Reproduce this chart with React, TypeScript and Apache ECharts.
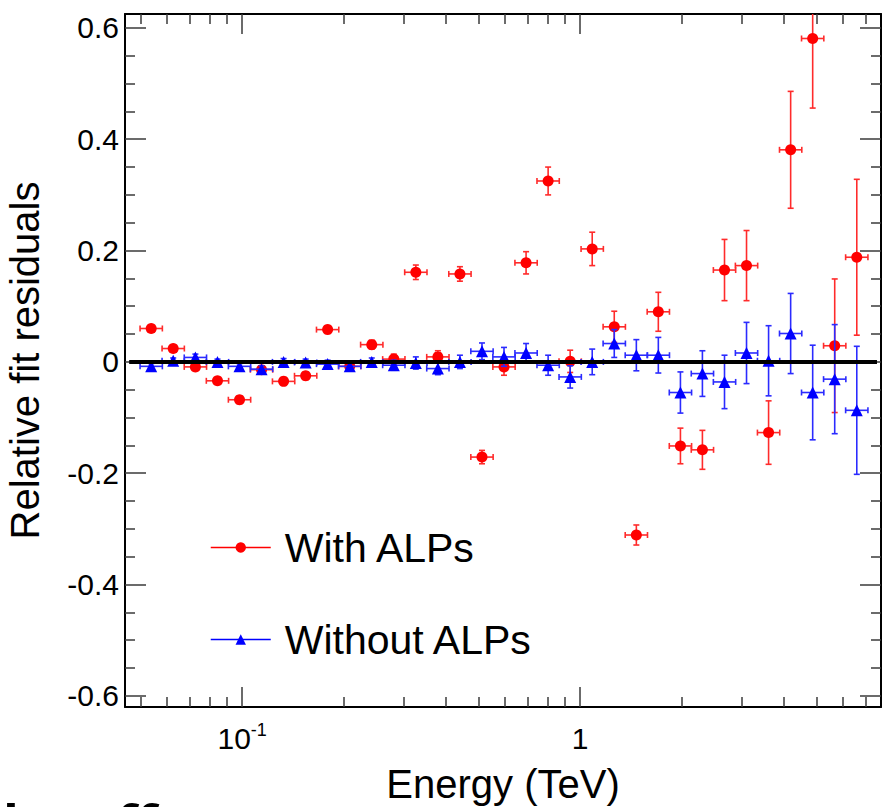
import React, { useEffect, useRef } from "react";
import * as echarts from "echarts";

// ---- data ----
const energyTeV = [
  0.0538, 0.0625, 0.0727, 0.0845, 0.0982, 0.1141, 0.1326, 0.1541, 0.179, 0.2081,
  0.2418, 0.281, 0.3265, 0.3794, 0.4409, 0.5124, 0.5954, 0.692, 0.8042, 0.9346,
  1.086, 1.262, 1.467, 1.704, 1.981, 2.301, 2.675, 3.108, 3.612, 4.198,
  4.878, 5.668, 6.588,
];
const withALPs = [
  0.06, 0.024, -0.009, -0.034, -0.068, -0.014, -0.035, -0.025, 0.058, -0.008,
  0.031, 0.005, 0.161, 0.009, 0.158, -0.171, -0.009, 0.178, 0.325, 0.001,
  0.203, 0.063, -0.311, 0.09, -0.151, -0.158, 0.165, 0.173, -0.127, 0.381,
  0.581, 0.029, 0.188,
];
const withALPsErr = [
  0.006, 0.006, 0.006, 0.006, 0.007, 0.007, 0.007, 0.007, 0.007, 0.008,
  0.008, 0.009, 0.013, 0.011, 0.013, 0.012, 0.015, 0.02, 0.025, 0.02,
  0.03, 0.028, 0.018, 0.035, 0.032, 0.035, 0.055, 0.063, 0.057, 0.105,
  0.125, 0.12, 0.14,
];
const withoutALPs = [
  -0.008, 0.002, 0.008, 0.0, -0.008, -0.013, 0.0, -0.001, -0.004, -0.008,
  0.0, -0.006, -0.002, -0.012, 0.0, 0.019, 0.009, 0.016, -0.006, -0.027,
  0.0, 0.033, 0.012, 0.012, -0.055, -0.021, -0.036, 0.016, 0.002, 0.051,
  -0.055, -0.031, -0.087,
];
const withoutALPsErr = [
  0.005, 0.005, 0.006, 0.005, 0.005, 0.006, 0.006, 0.006, 0.007, 0.007,
  0.007, 0.009, 0.011, 0.011, 0.012, 0.015, 0.017, 0.017, 0.018, 0.02,
  0.023, 0.025, 0.028, 0.032, 0.037, 0.041, 0.048, 0.055, 0.063, 0.072,
  0.085, 0.098, 0.115,
];
const halfBinLog = 0.033; // half width of an energy bin, in decades
const xRange = [0.045, 7.77];
const yRange = [-0.62, 0.625];
const zeroLineEnergy = [0.0463, 7.56];
const yMajorTicks = [-0.6, -0.4, -0.2, 0, 0.2, 0.4, 0.6];
const yMinorTicks = [
  -0.55, -0.5, -0.45, -0.35, -0.3, -0.25, -0.15, -0.1, -0.05,
  0.05, 0.1, 0.15, 0.25, 0.3, 0.35, 0.45, 0.5, 0.55,
];
const xMajorTicks = [0.1, 1];
const xMajorLabels = [["10", "-1"], ["1", ""]];
const xMinorTicks = [
  0.05, 0.06, 0.07, 0.08, 0.09, 0.2, 0.3, 0.4, 0.5, 0.6, 0.7, 0.8, 0.9,
  2, 3, 4, 5, 6, 7,
];
const seriesNames = ["With ALPs", "Without ALPs"];

const FONT = "'Liberation Sans', Arial, Helvetica, sans-serif";
const lg = (v: number) => Math.log10(v);

function errRender(color: string) {
  return (params: any, api: any) => {
    const cs = params.coordSys;
    const x = api.value(0);
    const y = api.value(1);
    const c = api.coord([x, y]);
    const pLo = api.coord([x, api.value(2)]);
    const pHi = api.coord([x, api.value(3)]);
    const pL = api.coord([api.value(4), y]);
    const pR = api.coord([api.value(5), y]);
    const top = Math.max(pHi[1], cs.y);
    const bot = Math.min(pLo[1], cs.y + cs.height);
    const style = { stroke: color, lineWidth: 1.6 };
    const cap = 3;
    const children: any[] = [
      { type: "line", shape: { x1: c[0], y1: top, x2: c[0], y2: bot }, style },
      { type: "line", shape: { x1: pL[0], y1: c[1], x2: pR[0], y2: c[1] }, style },
      { type: "line", shape: { x1: pL[0], y1: c[1] - cap, x2: pL[0], y2: c[1] + cap }, style },
      { type: "line", shape: { x1: pR[0], y1: c[1] - cap, x2: pR[0], y2: c[1] + cap }, style },
    ];
    if (pHi[1] >= cs.y)
      children.push({ type: "line", shape: { x1: c[0] - cap, y1: pHi[1], x2: c[0] + cap, y2: pHi[1] }, style });
    if (pLo[1] <= cs.y + cs.height)
      children.push({ type: "line", shape: { x1: c[0] - cap, y1: pLo[1], x2: c[0] + cap, y2: pLo[1] }, style });
    return { type: "group", children };
  };
}

export default function App() {
  const ref = useRef<HTMLDivElement>(null);

  useEffect(() => {
    document.body.style.margin = "0";
    if (!ref.current) return;
    const chart = echarts.init(ref.current, null, { renderer: "svg" });

    const xMin = lg(xRange[0]);
    const xMax = lg(xRange[1]);
    const tickColor = "#3a3a3a";

    const xBase = {
      type: "value",
      min: xMin,
      max: xMax,
      splitLine: { show: false },
      axisLabel: { show: false },
    };
    const yBase = {
      type: "value",
      min: yRange[0],
      max: yRange[1],
      splitLine: { show: false },
      axisLabel: { show: false },
    };

    const errData = (vals: number[], errs: number[]) =>
      energyTeV.map((e, i) => [
        lg(e),
        vals[i],
        vals[i] - errs[i],
        vals[i] + errs[i],
        lg(e) - halfBinLog,
        lg(e) + halfBinLog,
      ]);

    const xLabelFmt = (v: number) => {
      let best = 0;
      xMajorTicks.forEach((t, i) => {
        if (Math.abs(lg(t) - v) < Math.abs(lg(xMajorTicks[best]) - v)) best = i;
      });
      const [a, b] = xMajorLabels[best];
      return b ? `${a}{s|${b}}` : a;
    };

    const option: any = {
      animation: false,
      backgroundColor: "#ffffff",
      grid: { left: 125, right: 14, top: 14, bottom: 100, outerBoundsMode: "none", containLabel: false },
      xAxis: [
        {
          ...xBase,
          position: "bottom",
          axisLine: { show: true, onZero: false, lineStyle: { color: "#000", width: 2 } },
          axisTick: { show: true, inside: true, length: 20, customValues: xMajorTicks.map(lg), lineStyle: { color: tickColor, width: 1.5 } },
          axisLabel: {
            show: true,
            customValues: xMajorTicks.map(lg),
            margin: 14,
            fontFamily: FONT,
            fontSize: 30,
            lineHeight: 34,
            color: "#000",
            formatter: xLabelFmt,
            rich: {
              s: { fontFamily: FONT, fontSize: 18, color: "#000", verticalAlign: "top", lineHeight: 20 },
            },
          },
          name: "Energy (TeV)",
          nameLocation: "middle",
          nameGap: 57,
          nameTextStyle: { fontFamily: FONT, fontSize: 40, color: "#000" },
        },
        {
          ...xBase,
          position: "bottom",
          axisLine: { show: false, onZero: false },
          axisTick: { show: true, inside: true, length: 10, customValues: xMinorTicks.map(lg), lineStyle: { color: tickColor, width: 1.5 } },
        },
        {
          ...xBase,
          position: "top",
          axisLine: { show: true, onZero: false, lineStyle: { color: "#000", width: 2 } },
          axisTick: { show: true, inside: true, length: 20, customValues: xMajorTicks.map(lg), lineStyle: { color: tickColor, width: 1.5 } },
        },
        {
          ...xBase,
          position: "top",
          axisLine: { show: false, onZero: false },
          axisTick: { show: true, inside: true, length: 10, customValues: xMinorTicks.map(lg), lineStyle: { color: tickColor, width: 1.5 } },
        },
      ],
      yAxis: [
        {
          ...yBase,
          position: "left",
          axisLine: { show: true, onZero: false, lineStyle: { color: "#000", width: 2 } },
          axisTick: { show: true, inside: true, length: 21, customValues: yMajorTicks, lineStyle: { color: tickColor, width: 1.5 } },
          axisLabel: {
            show: true,
            customValues: yMajorTicks,
            margin: 6,
            fontFamily: FONT,
            fontSize: 30,
            color: "#000",
            formatter: (v: number) => String(Math.round(v * 10) / 10),
          },
          name: "Relative fit residuals",
          nameLocation: "middle",
          nameGap: 80,
          nameTextStyle: { fontFamily: FONT, fontSize: 40, color: "#000" },
        },
        {
          ...yBase,
          position: "left",
          axisLine: { show: false, onZero: false },
          axisTick: { show: true, inside: true, length: 10, customValues: yMinorTicks, lineStyle: { color: tickColor, width: 1.5 } },
        },
        {
          ...yBase,
          position: "right",
          axisLine: { show: true, onZero: false, lineStyle: { color: "#000", width: 2 } },
          axisTick: { show: true, inside: true, length: 21, customValues: yMajorTicks, lineStyle: { color: tickColor, width: 1.5 } },
        },
        {
          ...yBase,
          position: "right",
          axisLine: { show: false, onZero: false },
          axisTick: { show: true, inside: true, length: 10, customValues: yMinorTicks, lineStyle: { color: tickColor, width: 1.5 } },
        },
      ],
      legend: {
        data: seriesNames,
        orient: "vertical",
        left: 210,
        top: 527,
        padding: 0,
        itemWidth: 60,
        itemHeight: 13,
        itemGap: 51,
        selectedMode: false,
        lineStyle: { opacity: 1, width: 1.5 },
        textStyle: { fontFamily: FONT, fontSize: 41, color: "#000", padding: [0, 0, 0, 9] },
      },
      series: [
        {
          type: "custom",
          name: "errWith",
          renderItem: errRender("#ff2b2b"),
          data: errData(withALPs, withALPsErr),
          dimensions: ["x", "y", "lo", "hi", "xl", "xh"],
          encode: { x: 0, y: 1 },
          z: 2,
          silent: true,
        },
        {
          type: "line",
          name: seriesNames[0],
          data: energyTeV.map((e, i) => [lg(e), withALPs[i]]),
          symbol: "circle",
          symbolSize: 11,
          showSymbol: true,
          itemStyle: { color: "#ff0000", borderWidth: 0 },
          lineStyle: { color: "#ff0000", width: 1.5, opacity: 0 },
          emphasis: { disabled: true },
          z: 3,
          silent: true,
        },
        {
          type: "custom",
          name: "errWithout",
          renderItem: errRender("#2b2bff"),
          data: errData(withoutALPs, withoutALPsErr),
          dimensions: ["x", "y", "lo", "hi", "xl", "xh"],
          encode: { x: 0, y: 1 },
          z: 4,
          silent: true,
        },
        {
          type: "line",
          name: seriesNames[1],
          data: energyTeV.map((e, i) => [lg(e), withoutALPs[i]]),
          symbol: "triangle",
          symbolSize: 12,
          showSymbol: true,
          itemStyle: { color: "#0000ff", borderWidth: 0 },
          lineStyle: { color: "#0000ff", width: 1.5, opacity: 0 },
          emphasis: { disabled: true },
          z: 5,
          silent: true,
        },
        {
          type: "line",
          name: "zero",
          data: zeroLineEnergy.map((e) => [lg(e), 0]),
          symbol: "none",
          lineStyle: { color: "#000", width: 4 },
          emphasis: { disabled: true },
          z: 6,
          silent: true,
        },
      ],
      graphic: [
        {
          type: "text",
          left: 3,
          top: 796,
          style: { text: "l", font: "bold 52px 'Open Sans', sans-serif", fill: "#000" },
        },
        {
          type: "text",
          left: 86,
          top: 796,
          style: { text: "effect", font: "bold 52px 'Open Sans', sans-serif", fill: "#000" },
        },
      ],
    };

    chart.setOption(option);
    return () => chart.dispose();
  }, []);

  return (
    <div
      ref={ref}
      style={{ position: "fixed", left: 0, top: 0, width: 895, height: 807, background: "#fff" }}
    />
  );
}
